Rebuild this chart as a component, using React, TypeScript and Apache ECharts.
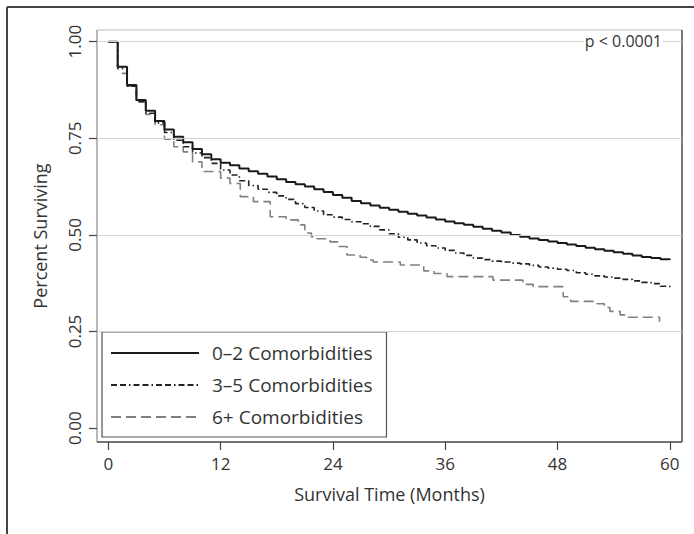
import React, { useEffect, useRef } from "react";
import * as echarts from "echarts";

const seriesNames = ["0–2 Comorbidities", "3–5 Comorbidities", "6+ Comorbidities"];

const monthsLow = [0,1,2,3,4,5,6,7,8,9,10,11,12,13,14,15,16,17,18,19,20,21,22,23,24,25,26,27,28,29,30,31,32,33,34,35,36,37,38,39,40,41,42,43,44,45,46,47,48,49,50,51,52,53,54,55,56,57,58,59,60];
const survLow = [1.0,0.935,0.888,0.849,0.821,0.795,0.773,0.754,0.740,0.722,0.709,0.696,0.687,0.680,0.672,0.665,0.658,0.651,0.644,0.637,0.631,0.625,0.618,0.611,0.603,0.596,0.588,0.582,0.576,0.570,0.565,0.560,0.555,0.550,0.545,0.540,0.535,0.530,0.526,0.521,0.516,0.511,0.506,0.500,0.495,0.491,0.487,0.483,0.479,0.475,0.471,0.467,0.463,0.459,0.455,0.451,0.447,0.443,0.440,0.437,0.435];

const monthsMid = [0,1,2,3,4,5,6,7,8,9,10,11,12,13,14,15,16,17,18,19,20,21,22,23,24,25,26,27,28,29,30,31,32,33,34,35,36,37,38,39,40,41,42,43,44,45,46,47,48,49,50,51,52,53,54,55,56,57,58,59,60];
const survMid = [1.0,0.930,0.885,0.845,0.815,0.790,0.765,0.745,0.728,0.712,0.700,0.685,0.668,0.655,0.640,0.628,0.618,0.610,0.601,0.592,0.581,0.571,0.562,0.552,0.546,0.540,0.534,0.529,0.522,0.513,0.503,0.494,0.487,0.479,0.472,0.466,0.460,0.453,0.447,0.440,0.436,0.432,0.430,0.427,0.425,0.421,0.417,0.414,0.411,0.408,0.402,0.398,0.394,0.391,0.388,0.385,0.381,0.377,0.374,0.367,0.362];

const monthsHigh = [0,1,1.5,2,3,4,5,6,7,8,9,10,12,13,14.1,15.5,17.3,19,20.3,21,21.7,22.3,23.7,24.5,25.5,26.9,27.6,28.3,31.2,33.7,34.8,36.2,41.1,44.3,45.4,48.6,49.4,52.2,53,53.6,54.7,55.4,58.9];
const survHigh = [1.0,0.935,0.918,0.885,0.845,0.812,0.785,0.748,0.728,0.715,0.689,0.664,0.647,0.633,0.599,0.586,0.547,0.539,0.526,0.505,0.495,0.490,0.482,0.470,0.448,0.442,0.435,0.430,0.422,0.407,0.400,0.392,0.383,0.372,0.366,0.340,0.328,0.322,0.312,0.302,0.293,0.287,0.275];

const xTicks = [0, 12, 24, 36, 48, 60];
const yTicks = [0, 0.25, 0.5, 0.75, 1];
const gridValues = [0.25, 0.5, 0.75, 1];
const xTitle = "Survival Time (Months)";
const yTitle = "Percent Surviving";
const pText = "p < 0.0001";

const FONT = "Open Sans";

export default function App() {
  const ref = useRef<HTMLDivElement>(null);
  useEffect(() => {
    if (!ref.current) return;
    const chart = echarts.init(ref.current, null, { renderer: "svg" });
    const zip = (xs: number[], ys: number[]) => xs.map((x, i) => [x, ys[i]]);
    const box = { l: 97, t: 30, r: 682, b: 442 };
    chart.setOption({
      animation: false,
      backgroundColor: "#ffffff",
      textStyle: { fontFamily: FONT },
      grid: { left: box.l, top: box.t, width: box.r - box.l, height: box.b - box.t, containLabel: false },
      xAxis: {
        type: "value",
        min: -1.21,
        max: 61.3,
        name: xTitle,
        nameLocation: "middle",
        nameGap: 43,
        nameTextStyle: { fontFamily: FONT, fontSize: 18, color: "#333" },
        axisLine: { show: false, onZero: false },
        axisTick: { show: true, customValues: xTicks, length: 8, lineStyle: { color: "#444", width: 1.2 } },
        axisLabel: { customValues: xTicks, margin: 13, fontFamily: FONT, fontSize: 17, color: "#333" },
        splitLine: { show: false },
      },
      yAxis: {
        type: "value",
        min: -0.036,
        max: 1.0303,
        name: yTitle,
        nameLocation: "middle",
        nameRotate: 90,
        nameGap: 48,
        nameTextStyle: { fontFamily: FONT, fontSize: 18, color: "#333" },
        axisLine: { show: false, onZero: false },
        axisTick: { show: true, customValues: yTicks, length: 8, lineStyle: { color: "#444", width: 1.2 } },
        axisLabel: {
          customValues: yTicks,
          rotate: 90,
          margin: 14,
          fontFamily: FONT,
          fontSize: 17,
          color: "#333",
          formatter: (v: number) => v.toFixed(2),
        },
        splitLine: { show: false },
      },
      legend: {
        data: seriesNames,
        orient: "vertical",
        left: 102,
        top: 332,
        padding: [11, 14, 10, 8],
        itemWidth: 88,
        itemHeight: 14,
        itemGap: 12,
        backgroundColor: "#ffffff",
        borderColor: "#555",
        borderWidth: 1.2,
        borderRadius: 0,
        itemStyle: { opacity: 0, borderWidth: 0 },
        textStyle: { fontFamily: FONT, fontSize: 19, color: "#333", lineHeight: 20, padding: [0, 0, 0, 8] },
        selectedMode: false,
      },
      graphic: [
        { type: "line", shape: { x1: 7, y1: 7, x2: 694, y2: 7 }, style: { stroke: "#444", lineWidth: 2 } },
        { type: "line", shape: { x1: 7, y1: 7, x2: 7, y2: 534 }, style: { stroke: "#444", lineWidth: 2 } },
        { type: "line", shape: { x1: box.l, y1: box.t, x2: box.r, y2: box.t }, style: { stroke: "#bdbdbd", lineWidth: 1.2 } },
        { type: "line", shape: { x1: box.l, y1: box.t, x2: box.l, y2: box.b }, style: { stroke: "#8a8a8a", lineWidth: 1.2 } },
        { type: "line", shape: { x1: box.r, y1: box.t, x2: box.r, y2: box.b }, style: { stroke: "#444", lineWidth: 1.4 } },
        { type: "line", shape: { x1: box.l, y1: box.b, x2: box.r, y2: box.b }, style: { stroke: "#444", lineWidth: 1.4 } },
        {
          type: "text",
          right: 694 - 663,
          top: 33,
          z: 100,
          style: {
            text: pText,
            fontFamily: FONT,
            fontSize: 16,
            fill: "#333",
            backgroundColor: "#ffffff",
            padding: [0, 1, 0, 1],
          },
        },
      ],
      series: [
        {
          name: "grid",
          type: "line",
          data: [],
          z: 1,
          silent: true,
          markLine: {
            silent: true,
            symbol: "none",
            animation: false,
            label: { show: false },
            lineStyle: { color: "#d2d2d2", type: "solid", width: 1.2 },
            data: gridValues.map((v) => ({ yAxis: v })),
          },
        },
        {
          name: seriesNames[0],
          type: "line",
          step: "end",
          showSymbol: false,
          symbol: "none",
          z: 4,
          data: zip(monthsLow, survLow),
          lineStyle: { color: "#1a1a1a", width: 2, type: "solid" },
          itemStyle: { color: "#1a1a1a" },
        },
        {
          name: seriesNames[1],
          type: "line",
          step: "end",
          showSymbol: false,
          symbol: "none",
          z: 3,
          data: zip(monthsMid, survMid),
          lineStyle: { color: "#222", width: 1.6, type: [6, 3, 6, 3, 1.5, 3] },
          itemStyle: { color: "#222" },
        },
        {
          name: seriesNames[2],
          type: "line",
          step: "end",
          showSymbol: false,
          symbol: "none",
          z: 2,
          data: zip(monthsHigh, survHigh),
          lineStyle: { color: "#808080", width: 1.6, type: [10, 5] },
          itemStyle: { color: "#808080" },
        },
      ],
    });
    return () => chart.dispose();
  }, []);
  return <div ref={ref} style={{ position: "absolute", left: 0, top: 0, width: 694, height: 534 }} />;
}
